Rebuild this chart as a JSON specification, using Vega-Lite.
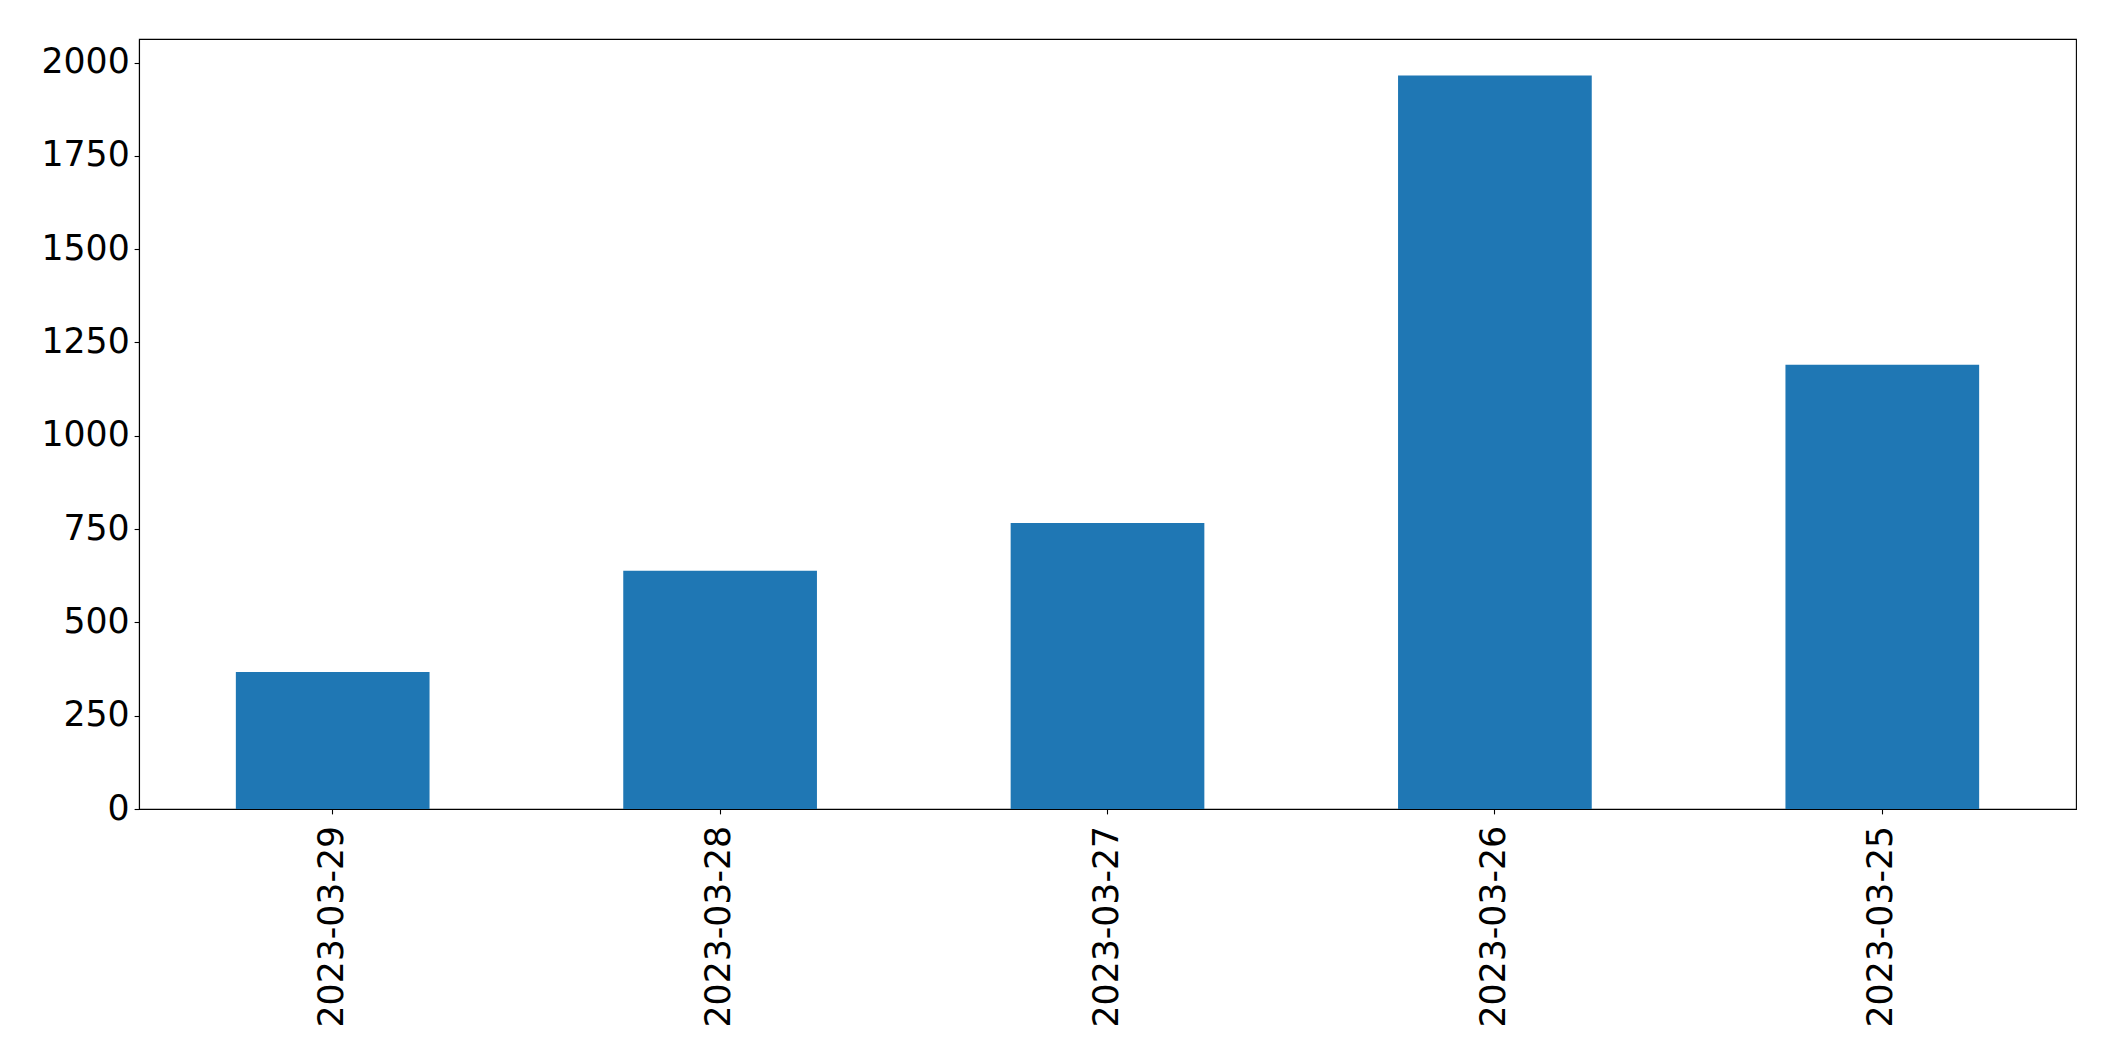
{
  "$schema": "https://vega.github.io/schema/vega-lite/v6.json",
  "autosize": "none",
  "width": 1937,
  "height": 770,
  "padding": {"left": 139, "top": 39, "right": 39, "bottom": 252},
  "background": "white",
  "config": {
    "view": {"stroke": "black", "strokeWidth": 1.1},
    "axis": {
      "labelFont": "DejaVu Sans",
      "labelFontSize": 34.7,
      "labelColor": "black",
      "labelLimit": 0,
      "tickColor": "black",
      "tickSize": 4.9,
      "tickWidth": 1.1,
      "domainColor": "black",
      "domainWidth": 1.1,
      "labelPadding": 4.9,
      "grid": false,
      "title": null
    }
  },
  "data": {
    "values": [
      {"date": "2023-03-29", "count": 367},
      {"date": "2023-03-28", "count": 638},
      {"date": "2023-03-27", "count": 766},
      {"date": "2023-03-26", "count": 1965},
      {"date": "2023-03-25", "count": 1190}
    ]
  },
  "mark": {"type": "bar", "color": "#1f77b4"},
  "encoding": {
    "x": {
      "field": "date",
      "type": "nominal",
      "sort": null,
      "scale": {"paddingInner": 0.5, "paddingOuter": 0.25},
      "axis": {"labelAngle": 270, "labelAlign": "right", "labelBaseline": "middle", "labelOverlap": false, "labelPadding": 11.5}
    },
    "y": {
      "field": "count",
      "type": "quantitative",
      "scale": {"domain": [0, 2063], "nice": false, "zero": true},
      "axis": {"values": [0, 250, 500, 750, 1000, 1250, 1500, 1750, 2000], "format": "d", "labelOverlap": false}
    }
  }
}
